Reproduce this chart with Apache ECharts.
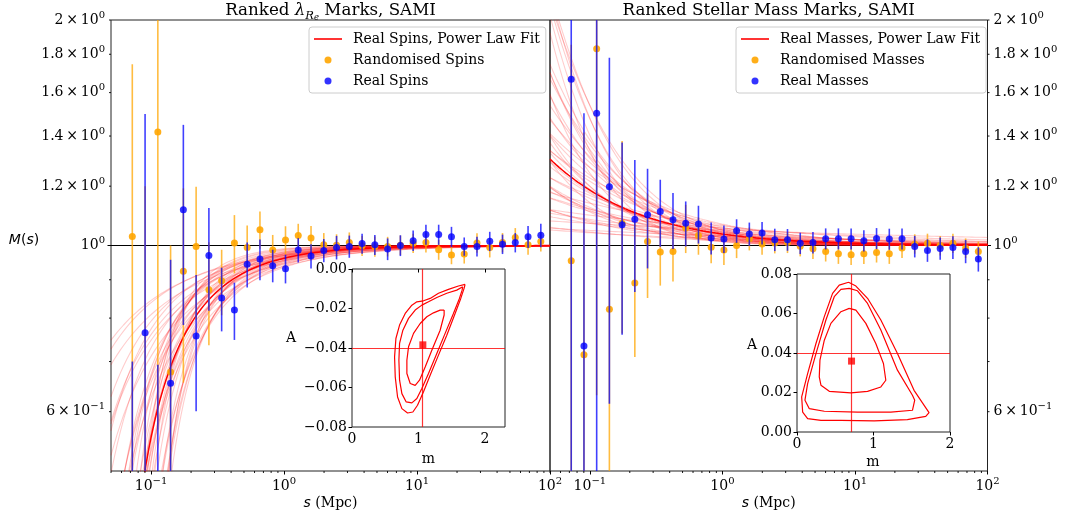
<!DOCTYPE html>
<html><head><meta charset="utf-8">
<script src="https://cdn.jsdelivr.net/npm/echarts@6/dist/echarts.min.js"></script>
<style>html,body{margin:0;padding:0;background:#fff}#c{width:1071px;height:518px}</style>
</head><body><div id="c"></div>
<script>
// ---------------- data ----------------
const sBins = [0.0723,0.0902,0.1125,0.1403,0.1750,0.2183,0.2723,0.3396,0.4236,0.5284,0.6592,0.8222,1.026,1.279,1.596,1.991,2.483,3.097,3.864,4.819,6.012,7.499,9.354,11.67,14.55,18.16,22.65,28.25,35.24,43.95,54.83,68.39,85.31];

const spinRandVal = [1.028,0.30,1.418,0.678,0.924,0.997,0.873,0.897,1.008,0.994,1.050,0.986,1.017,1.031,1.023,1.002,1.001,1.009,0.999,0.997,0.997,1.001,1.007,1.009,0.987,0.971,0.974,1.008,0.994,1.009,1.025,1.002,1.012];
const spinRandErr = [0.718,0.90,0.85,0.322,0.268,0.201,0.137,0.090,0.090,0.069,0.060,0.047,0.044,0.038,0.039,0.037,0.034,0.032,0.031,0.031,0.030,0.030,0.030,0.030,0.030,0.027,0.028,0.030,0.030,0.030,0.030,0.030,0.030];
const spinRealVal = [0.35,0.765,0.30,0.655,1.116,0.757,0.970,0.851,0.820,0.944,0.959,0.940,0.931,0.986,0.968,0.985,0.994,0.997,1.006,1.002,0.989,1.000,1.015,1.034,1.034,1.027,0.997,0.997,1.013,1.004,1.009,1.027,1.032];
const spinRealErr = [0.35,0.733,0.393,0.302,0.333,0.156,0.152,0.083,0.072,0.065,0.060,0.047,0.041,0.037,0.036,0.035,0.036,0.034,0.031,0.031,0.033,0.032,0.032,0.032,0.032,0.032,0.028,0.030,0.030,0.030,0.030,0.035,0.037];

const massRandVal = [0.954,0.715,1.831,0.822,1.071,0.891,1.012,0.980,0.982,1.055,1.031,0.995,0.986,1.000,1.021,1.005,1.008,1.009,0.998,0.990,0.982,0.975,0.972,0.975,0.979,0.975,0.992,1.005,1.007,1.000,1.007,0.992,0.982];
const massRandErr = [0.90,0.70,1.20,0.40,0.308,0.181,0.161,0.096,0.087,0.078,0.059,0.048,0.044,0.038,0.036,0.033,0.032,0.032,0.031,0.031,0.030,0.030,0.030,0.030,0.030,0.030,0.030,0.030,0.030,0.030,0.030,0.030,0.030];
const massRealVal = [1.667,0.734,1.502,1.198,1.066,1.084,1.099,1.110,1.082,1.071,1.068,1.023,1.020,1.046,1.036,1.039,1.018,1.018,1.007,1.009,1.021,1.021,1.021,1.015,1.022,1.020,1.021,0.997,0.985,0.991,0.994,0.982,0.959];
const massRealErr = [1.25,0.768,1.10,0.583,0.306,0.217,0.167,0.114,0.093,0.074,0.062,0.050,0.043,0.038,0.037,0.036,0.035,0.034,0.033,0.033,0.033,0.033,0.033,0.033,0.033,0.033,0.033,0.033,0.034,0.034,0.035,0.035,0.036];

// best fit [m, A] and posterior samples [m, A]  (M(s) = 1 + A s^-m)
const spinFit = [1.065, -0.0384];
const massFit = [0.713, 0.0359];
const spinSamples = [[0.68,-0.040],[0.70,-0.031],[0.72,-0.055],[0.74,-0.046],[0.76,-0.028],[0.78,-0.062],[0.80,-0.038],[0.82,-0.052],[0.84,-0.030],[0.86,-0.065],[0.88,-0.044],[0.90,-0.034],[0.92,-0.056],[0.94,-0.026],[0.96,-0.048],[0.98,-0.038],[1.00,-0.060],[1.02,-0.030],[1.04,-0.044],[1.06,-0.036],[1.08,-0.052],[1.10,-0.026],[1.12,-0.040],[1.14,-0.032],[1.16,-0.048],[1.18,-0.022],[1.20,-0.036],[1.22,-0.044],[1.24,-0.028],[1.26,-0.020],[1.28,-0.034],[1.30,-0.040],[1.33,-0.024],[1.36,-0.017],[1.40,-0.030],[1.44,-0.020],[1.48,-0.014],[1.52,-0.024],[1.58,-0.012],[1.64,-0.010]];
const massSamples = [[0.15,0.050],[0.20,0.030],[0.25,0.055],[0.30,0.020],[0.32,0.040],[0.35,0.062],[0.40,0.028],[0.42,0.045],[0.45,0.015],[0.48,0.055],[0.50,0.035],[0.52,0.024],[0.55,0.065],[0.57,0.042],[0.60,0.030],[0.62,0.018],[0.64,0.050],[0.66,0.038],[0.68,0.026],[0.70,0.058],[0.72,0.034],[0.74,0.044],[0.76,0.020],[0.78,0.052],[0.80,0.030],[0.83,0.040],[0.86,0.015],[0.88,0.048],[0.90,0.025],[0.93,0.036],[0.96,0.042],[1.00,0.020],[1.03,0.032],[1.05,0.048],[1.07,0.012],[1.10,0.026],[1.15,0.038],[1.20,0.030],[1.25,0.014],[1.30,0.024],[1.35,0.018],[1.45,0.012],[0.60,0.068]];

// inset contours [m, A]
const spinContourInner = [[1.385,-0.0208],[1.325,-0.0208],[1.225,-0.0222],[1.125,-0.0242],[1.025,-0.0276],[0.925,-0.0326],[0.85,-0.0394],[0.825,-0.0462],[0.825,-0.0529],[0.875,-0.058],[0.95,-0.0589],[1.015,-0.0563],[1.10,-0.0496],[1.20,-0.0411],[1.325,-0.031],[1.385,-0.0233],[1.385,-0.0208]];
const spinContourMid = [[1.665,-0.009],[1.575,-0.0107],[1.425,-0.0123],[1.275,-0.0144],[1.15,-0.0166],[1.05,-0.0183],[0.95,-0.0208],[0.85,-0.025],[0.765,-0.031],[0.715,-0.0377],[0.705,-0.0462],[0.715,-0.0563],[0.75,-0.0631],[0.815,-0.0673],[0.90,-0.0678],[0.975,-0.0656],[1.05,-0.0605],[1.15,-0.0529],[1.275,-0.0428],[1.40,-0.0326],[1.525,-0.0225],[1.615,-0.0149],[1.655,-0.0107],[1.665,-0.009]];
const spinContourOuter = [[1.70,-0.0078],[1.60,-0.0086],[1.45,-0.0103],[1.30,-0.0123],[1.175,-0.0149],[1.075,-0.0161],[0.975,-0.0166],[0.90,-0.0183],[0.80,-0.0225],[0.715,-0.0284],[0.66,-0.0352],[0.64,-0.0445],[0.65,-0.0546],[0.685,-0.0648],[0.75,-0.0707],[0.835,-0.0729],[0.915,-0.0724],[0.985,-0.069],[1.075,-0.0622],[1.175,-0.0538],[1.30,-0.0436],[1.425,-0.0335],[1.55,-0.0225],[1.635,-0.0149],[1.685,-0.0098],[1.70,-0.0078]];
const massContourInner = [[0.683,0.0626],[0.77,0.0617],[0.90,0.055],[1.03,0.0448],[1.13,0.0347],[1.161,0.0262],[1.174,0.0254],[1.096,0.0228],[0.922,0.0206],[0.704,0.0198],[0.422,0.0206],[0.313,0.0237],[0.291,0.0279],[0.30,0.0364],[0.357,0.0465],[0.443,0.055],[0.574,0.0609],[0.683,0.0626]];
const massContourMid = [[0.683,0.0727],[0.791,0.0715],[0.922,0.0651],[1.096,0.0516],[1.313,0.0313],[1.509,0.0186],[1.539,0.0161],[1.509,0.0110],[1.226,0.0101],[0.791,0.0101],[0.357,0.0105],[0.161,0.0118],[0.104,0.0161],[0.139,0.0245],[0.248,0.0397],[0.378,0.0567],[0.487,0.0685],[0.574,0.0722],[0.683,0.0727]];
const massContourOuter = [[0.674,0.0758],[0.77,0.0739],[0.922,0.0677],[1.096,0.0567],[1.313,0.0397],[1.53,0.0211],[1.726,0.0098],[1.683,0.0079],[1.443,0.0063],[1.009,0.0056],[0.574,0.0059],[0.313,0.0059],[0.139,0.0068],[0.074,0.0101],[0.061,0.0178],[0.139,0.0296],[0.248,0.0448],[0.357,0.0584],[0.465,0.0702],[0.552,0.0744],[0.674,0.0758]];

// ticks
const xMajorTicks = [0.1, 1, 10, 100];
const xMinorTicks = [0.05,0.06,0.07,0.08,0.09,0.2,0.3,0.4,0.5,0.6,0.7,0.8,0.9,2,3,4,5,6,7,8,9,20,30,40,50,60,70,80,90];
const yLabelTicks = [0.6, 1, 1.2, 1.4, 1.6, 1.8, 2];
const yMajorTicks = [1];
const yMinorTicks = [0.6,0.7,0.8,0.9,1.2,1.4,1.6,1.8,2];
const spinInsetXTicks = [0, 1, 2];
const spinInsetYTicks = [-0.08,-0.06,-0.04,-0.02,0];
const massInsetXTicks = [0, 1, 2];
const massInsetYTicks = [0,0.02,0.04,0.06,0.08];

// ---------------- chart ----------------
const X_MIN = 0.05, X_MAX = 100, Y_MIN = 0.5, Y_MAX = 2;
const serif = 'DejaVu Serif', sans = 'DejaVu Sans';

function fitCurve(m, A) {
  const lo = Math.log10(X_MIN), hi = Math.log10(X_MAX);
  const lim = A < 0 ? 0.55 : 1.4;
  let start = -Math.log10(lim / Math.abs(A)) / m;
  if (start < lo) start = lo;
  const n = 140, pts = [];
  for (let k = 0; k <= n; k++) {
    const s = Math.pow(10, start + (hi - start) * k / n);
    pts.push([s, 1 + A * Math.pow(s, -m)]);
  }
  return pts;
}

const tickRich = {
  b: {fontFamily: serif, fontSize: 14, color: '#000', lineHeight: 20, verticalAlign: 'middle'},
  sup: {fontFamily: serif, fontSize: 10, color: '#000', lineHeight: 12, verticalAlign: 'top'}
};
function xLabel(v) {
  const e = Math.round(Math.log10(v));
  return '{b|10}{sup|' + (e < 0 ? '\u2212' + (-e) : e) + '}';
}
function yLabel(v) {
  if (Math.abs(v - 1) < 1e-9) return '{b|10}{sup|0}';
  if (v < 1) return '{b|' + Math.round(v * 10) + '\u2009\u00d7\u200910}{sup|\u22121}';
  const t = Math.abs(v - 2) < 1e-9 ? '2' : v.toFixed(1);
  return '{b|' + t + '\u2009\u00d7\u200910}{sup|0}';
}

function mainX(gi) {
  return {type: 'log', gridIndex: gi, min: X_MIN, max: X_MAX, logBase: 10,
    axisLine: {show: false}, splitLine: {show: false}, minorTick: {show: false},
    axisTick: {show: true, customValues: xMajorTicks, length: 3.5, lineStyle: {color: '#000', width: 1}},
    axisLabel: {customValues: xMajorTicks, formatter: xLabel, rich: tickRich, margin: 5}};
}
function mainY(gi, pos) {
  return {type: 'log', gridIndex: gi, min: Y_MIN, max: Y_MAX, logBase: 10, position: pos,
    axisLine: {show: false}, splitLine: {show: false}, minorTick: {show: false},
    axisTick: {show: true, customValues: yMajorTicks, length: 3.5, lineStyle: {color: '#000', width: 1}},
    axisLabel: {customValues: yLabelTicks, formatter: yLabel, rich: tickRich, margin: 6}};
}
function insetAxis(gi, dim, min, max, ticks, fmt) {
  return {type: 'value', gridIndex: gi, min: min, max: max,
    axisLine: {show: false}, splitLine: {show: false},
    axisTick: {show: true, customValues: ticks, length: 3.5, lineStyle: {color: '#000', width: 1}},
    axisLabel: {customValues: ticks, formatter: fmt, fontFamily: serif, fontSize: 14, color: '#000', margin: 5}};
}

function tickSeries(xi, yi, pts, dx, dy) {
  return {type: 'custom', xAxisIndex: xi, yAxisIndex: yi, silent: true, z: 20, data: pts,
    renderItem: function (p, api) {
      const c = api.coord([api.value(0), api.value(1)]);
      return {type: 'line', shape: {x1: c[0], y1: c[1], x2: c[0] + dx, y2: c[1] + dy},
        style: {stroke: '#000', lineWidth: 0.9}};
    }};
}

function errSeries(xi, yi, vals, errs, color, z) {
  return {type: 'custom', xAxisIndex: xi, yAxisIndex: yi, silent: true, z: z,
    data: sBins.map((s, i) => [s, vals[i], errs[i]]),
    encode: {x: 0, y: 1},
    renderItem: function (p, api) {
      const s = api.value(0), v = api.value(1), e = api.value(2);
      const lo = Math.max(v - e, Y_MIN), hi = Math.min(v + e, Y_MAX);
      if (!(hi > lo)) return null;
      const a = api.coord([s, lo]), b = api.coord([s, hi]);
      return {type: 'line', shape: {x1: a[0], y1: a[1], x2: b[0], y2: b[1]},
        style: {stroke: color, lineWidth: 1.6, opacity: 0.75}};
    }};
}

function panelSeries(xi, yi, samples, fit, names, randVal, randErr, realVal, realErr, yEdgeX, tickDx) {
  const out = [];
  out.push({type: 'line', xAxisIndex: xi, yAxisIndex: yi, silent: true, z: 1, symbol: 'none',
    data: [[X_MIN, 1], [X_MAX, 1]], lineStyle: {color: '#000', width: 1.2}});
  samples.forEach(p => out.push({type: 'line', xAxisIndex: xi, yAxisIndex: yi, silent: true, z: 2,
    symbol: 'none', showSymbol: false, clip: true, data: fitCurve(p[0], p[1]),
    lineStyle: {color: '#ff0000', width: 1.1, opacity: 0.2}}));
  out.push({name: names[0], type: 'line', xAxisIndex: xi, yAxisIndex: yi, z: 3, symbol: 'none',
    showSymbol: false, clip: true, data: fitCurve(fit[0], fit[1]),
    itemStyle: {color: '#ff0000'}, lineStyle: {color: '#ff0000', width: 1.5}});
  out.push(errSeries(xi, yi, randVal, randErr, '#ffa500', 4));
  out.push({name: names[1], type: 'scatter', xAxisIndex: xi, yAxisIndex: yi, z: 5, symbolSize: 7, clip: true,
    data: sBins.map((s, i) => [s, randVal[i]]), itemStyle: {color: '#ffa500', opacity: 0.9}});
  out.push(errSeries(xi, yi, realVal, realErr, '#0000ff', 6));
  out.push({name: names[2], type: 'scatter', xAxisIndex: xi, yAxisIndex: yi, z: 7, symbolSize: 7, clip: true,
    data: sBins.map((s, i) => [s, realVal[i]]), itemStyle: {color: '#0000ff', opacity: 0.8}});
  out.push(tickSeries(xi, yi, xMinorTicks.map(v => [v, Y_MIN]), 0, 2));
  out.push(tickSeries(xi, yi, yMinorTicks.map(v => [yEdgeX, v]), tickDx, 0));
  return out;
}

function insetSeries(xi, yi, contours, fit) {
  const out = contours.map(c => ({type: 'line', xAxisIndex: xi, yAxisIndex: yi, silent: true, z: 10,
    symbol: 'none', data: c, lineStyle: {color: '#ff0000', width: 1.2}}));
  out.push({type: 'scatter', xAxisIndex: xi, yAxisIndex: yi, z: 12, symbol: 'rect', symbolSize: 7,
    data: [fit], itemStyle: {color: '#ff0000'}, silent: true,
    markLine: {silent: true, symbol: ['none', 'none'], label: {show: false}, animation: false,
      lineStyle: {color: 'rgba(255,0,0,0.8)', width: 1.2, type: 'solid'},
      data: [{xAxis: fit[0]}, {yAxis: fit[1]}]}});
  return out;
}

const lineIcon = 'path://M0,0H28V1.6H0Z';
const legendBase = {orient: 'vertical', itemWidth: 28, itemHeight: 7, itemGap: 7,
  selectedMode: false, padding: [5, 6, 5, 5], borderColor: '#cccccc', borderWidth: 1, borderRadius: 3,
  backgroundColor: 'rgba(255,255,255,0.8)',
  textStyle: {fontFamily: serif, fontSize: 14, color: '#000', padding: [0, 0, 0, 6]}};

const titleRich = {
  n: {fontFamily: serif, fontSize: 16.7, lineHeight: 22, verticalAlign: 'middle', fill: '#000'},
  l: {fontFamily: serif, fontStyle: 'italic', fontSize: 16.7, lineHeight: 22, verticalAlign: 'middle', fill: '#000'},
  r: {fontFamily: serif, fontStyle: 'italic', fontSize: 11.5, lineHeight: 10, verticalAlign: 'bottom', fill: '#000'},
  e: {fontFamily: serif, fontStyle: 'italic', fontSize: 8.5, lineHeight: 5, verticalAlign: 'bottom', fill: '#000'}
};
const labRich = {
  i: {fontFamily: sans, fontStyle: 'italic', fontSize: 14, fill: '#000'},
  p: {fontFamily: sans, fontSize: 14, fill: '#000'},
  n: {fontFamily: serif, fontSize: 14, fill: '#000'}
};
function txt(x, y, text, rich, extra) {
  return {type: 'text', x: x, y: y, z: 100, silent: true,
    style: Object.assign({text: text, rich: rich, align: 'center', verticalAlign: 'middle', fill: '#000',
      font: '14px ' + serif}, extra || {})};
}

const option = {
  animation: false,
  backgroundColor: '#fff',
  grid: [
    {left: 111, top: 20, width: 439, height: 451, show: true, borderColor: '#222', borderWidth: 1, backgroundColor: 'transparent'},
    {left: 550, top: 20, width: 437.5, height: 451, show: true, borderColor: '#222', borderWidth: 1, backgroundColor: 'transparent'},
    {left: 352, top: 269, width: 153, height: 158, show: true, borderColor: '#222', borderWidth: 1, backgroundColor: '#fff'},
    {left: 797, top: 274, width: 153, height: 158, show: true, borderColor: '#222', borderWidth: 1, backgroundColor: '#fff'}
  ],
  xAxis: [
    mainX(0), mainX(1),
    insetAxis(2, 'x', 0, 2.3, spinInsetXTicks, v => String(v)),
    insetAxis(3, 'x', 0, 2, massInsetXTicks, v => String(v))
  ],
  yAxis: [
    mainY(0, 'left'), mainY(1, 'right'),
    insetAxis(2, 'y', -0.08, 0, spinInsetYTicks, v => (v < 0 ? '\u2212' : '') + Math.abs(v).toFixed(2)),
    insetAxis(3, 'y', 0, 0.08, massInsetYTicks, v => v.toFixed(2))
  ],
  legend: [
    Object.assign({}, legendBase, {left: 309, top: 27,
      data: [{name: 'Real Spins, Power Law Fit', icon: lineIcon}, {name: 'Randomised Spins', icon: 'circle'}, {name: 'Real Spins', icon: 'circle'}]}),
    Object.assign({}, legendBase, {left: 736, top: 27,
      data: [{name: 'Real Masses, Power Law Fit', icon: lineIcon}, {name: 'Randomised Masses', icon: 'circle'}, {name: 'Real Masses', icon: 'circle'}]})
  ],
  graphic: [
    txt(330.5, 11, '{n|Ranked }{l|\u03bb}{r|R}{e|e}{n| Marks, SAMI}', titleRich),
    txt(768.7, 11, '{n|Ranked Stellar Mass Marks, SAMI}', titleRich),
    txt(24, 240, '{i|M}{p|(}{i|s}{p|)}', labRich),
    txt(330.5, 503, '{i|s}{n| (Mpc)}', labRich),
    txt(768.7, 503, '{i|s}{n| (Mpc)}', labRich),
    txt(428.5, 459, '{n|m}', labRich),
    txt(873, 462, '{n|m}', labRich),
    txt(291, 338, '{n|A}', labRich),
    txt(752, 345, '{n|A}', labRich)
  ],
  series: [].concat(
    panelSeries(0, 0, spinSamples, spinFit, ['Real Spins, Power Law Fit', 'Randomised Spins', 'Real Spins'],
      spinRandVal, spinRandErr, spinRealVal, spinRealErr, X_MIN, -2),
    panelSeries(1, 1, massSamples, massFit, ['Real Masses, Power Law Fit', 'Randomised Masses', 'Real Masses'],
      massRandVal, massRandErr, massRealVal, massRealErr, X_MAX, 2),
    insetSeries(2, 2, [spinContourInner, spinContourMid, spinContourOuter], spinFit),
    insetSeries(3, 3, [massContourInner, massContourMid, massContourOuter], massFit)
  )
};

const chart = echarts.init(document.getElementById('c'), null, {renderer: 'canvas'});
chart.setOption(option);
</script>
</body></html>
